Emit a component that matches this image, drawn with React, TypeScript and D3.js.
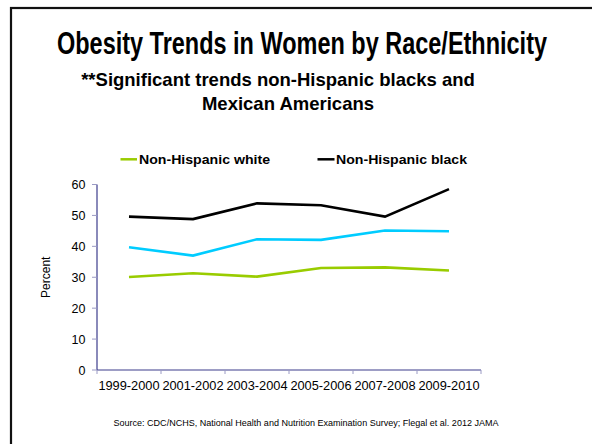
import React from "react";
import * as d3 from "d3";

const categories = ["1999-2000", "2001-2002", "2003-2004", "2005-2006", "2007-2008", "2009-2010"];
const whiteValues = [30.1, 31.3, 30.2, 33.0, 33.2, 32.2];
const blackValues = [49.6, 48.8, 53.9, 53.3, 49.6, 58.5];
const mexicanValues = [39.7, 37.0, 42.3, 42.1, 45.1, 44.9];
const yTicks = [0, 10, 20, 30, 40, 50, 60];
const seriesNames = ["Non-Hispanic white", "Non-Hispanic black", "Mexican American"];

const W = 592, H = 444;
const plot = { left: 97, right: 481, top: 184.5, bottom: 370 };
const FONT = "Liberation Sans, Arial, Helvetica, sans-serif";
const NARROW = "'Liberation Sans Narrow', 'Arial Narrow', Liberation Sans, Arial, sans-serif";
const axisColor = "#3c3c8c";

export default function App() {
  const x = d3.scaleBand<string>().domain(categories).range([plot.left, plot.right]);
  const y = d3.scaleLinear().domain([0, 60]).range([plot.bottom, plot.top]);
  const line = d3
    .line<number>()
    .x((_, i) => (x(categories[i]) as number) + x.bandwidth() / 2)
    .y((v) => y(v));

  const series = [
    { name: seriesNames[0], values: whiteValues, color: "#99cc00" },
    { name: seriesNames[2], values: mexicanValues, color: "#00ccff" },
    { name: seriesNames[1], values: blackValues, color: "#000000" },
  ];

  const tickEdges = categories.map((c) => x(c) as number).concat([plot.right]);

  return (
    <svg width={W} height={H} style={{ position: "absolute", left: 0, top: 0, background: "#fff" }}>
      <rect x={0} y={0} width={W} height={H} fill="#fff" />
      <rect x={11} y={8} width={W + 20} height={H + 20} fill="none" stroke="#111" strokeWidth={2.2} />

      <text x={302} y={54} textAnchor="middle" fontFamily={NARROW} fontWeight="bold" fontSize={31}
        textLength={490} lengthAdjust="spacingAndGlyphs">Obesity Trends in Women by Race/Ethnicity</text>
      <text x={278} y={86} textAnchor="middle" fontFamily={FONT} fontWeight="bold" fontSize={18.5}>
        **Significant trends non-Hispanic blacks and
      </text>
      <text x={288} y={110} textAnchor="middle" fontFamily={FONT} fontWeight="bold" fontSize={18.5}>
        Mexican Americans
      </text>

      {/* legend */}
      <line x1={120.5} x2={137} y1={159.3} y2={159.3} stroke="#99cc00" strokeWidth={2.5} />
      <text x={139} y={163.8} fontFamily={FONT} fontWeight="bold" fontSize={12.5}
        textLength={131} lengthAdjust="spacingAndGlyphs">{seriesNames[0]}</text>
      <line x1={317.5} x2={334.5} y1={159.3} y2={159.3} stroke="#000" strokeWidth={2.5} />
      <text x={336} y={163.8} fontFamily={FONT} fontWeight="bold" fontSize={12.5}
        textLength={131} lengthAdjust="spacingAndGlyphs">{seriesNames[1]}</text>

      {/* y axis */}
      <line x1={plot.left} x2={plot.left} y1={plot.top} y2={plot.bottom} stroke={axisColor} strokeWidth={1.2} />
      {yTicks.map((t) => (
        <g key={t}>
          <line x1={plot.left - 5} x2={plot.left} y1={y(t)} y2={y(t)} stroke="#9a9ac4" strokeWidth={1} />
          <text x={85.5} y={y(t) + 4.5} textAnchor="end" fontFamily={FONT} fontSize={12.5} fill="#000">{t}</text>
        </g>
      ))}
      <text transform={`translate(50,${(plot.top + plot.bottom) / 2}) rotate(-90)`} textAnchor="middle"
        fontFamily={FONT} fontSize={12} fill="#000">Percent</text>

      {/* x axis */}
      <line x1={plot.left} x2={plot.right} y1={plot.bottom} y2={plot.bottom} stroke={axisColor} strokeWidth={1.2} />
      {tickEdges.map((tx, i) => (
        <line key={i} x1={tx} x2={tx} y1={plot.bottom} y2={plot.bottom + 4} stroke="#9a9ac4" strokeWidth={1} />
      ))}
      {categories.map((c) => (
        <text key={c} x={(x(c) as number) + x.bandwidth() / 2} y={389.5} textAnchor="middle"
          fontFamily={FONT} fontSize={12.8} fill="#000">{c}</text>
      ))}

      {/* lines */}
      {series.map((s) => (
        <path key={s.name} d={line(s.values) || ""} fill="none" stroke={s.color} strokeWidth={2.6}
          strokeLinejoin="miter" />
      ))}

      <text x={306} y={426} textAnchor="middle" fontFamily={FONT} fontSize={8.8} fill="#000"
        textLength={385} lengthAdjust="spacingAndGlyphs">
        Source: CDC/NCHS, National Health and Nutrition Examination Survey; Flegal et al. 2012 JAMA
      </text>
    </svg>
  );
}
